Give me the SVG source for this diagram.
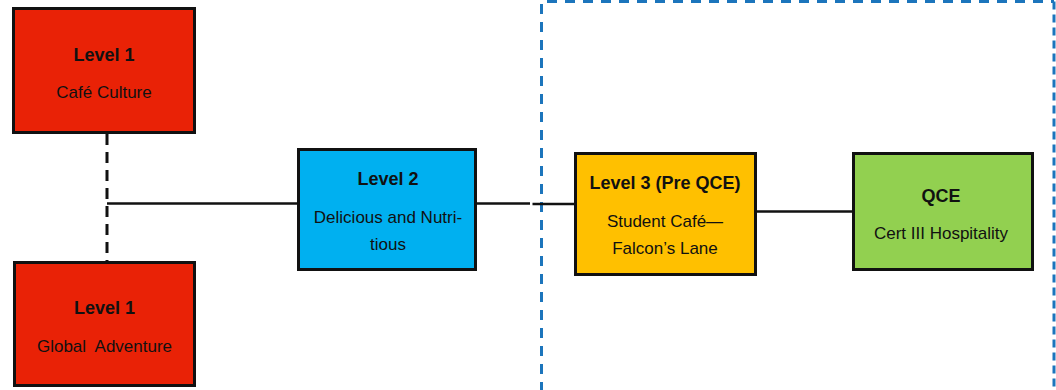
<svg xmlns="http://www.w3.org/2000/svg" width="1056" height="390" viewBox="0 0 1056 390">
<style>
  .box { stroke: #111; stroke-width: 3; }
  .red { fill: #E92206; }
  .blue { fill: #00B0F0; }
  .orange { fill: #FFC000; }
  .green { fill: #92D050; }
  .title { font-family: "Liberation Sans", Arial, sans-serif; font-weight: bold; font-size: 18px; fill: #111; text-anchor: middle; }
  .sub { font-family: "Liberation Sans", Arial, sans-serif; font-size: 17px; fill: #111; text-anchor: middle; white-space: pre; }
  .conn { stroke: #111; stroke-width: 2.5; fill: none; }
  .dash { stroke: #111; stroke-width: 3; stroke-dasharray: 11 7; fill: none; }
  .zone { stroke: #1C75BC; stroke-width: 3; fill: none; }
</style>
<rect width="1056" height="390" fill="#fff"/>
<g id="zone">
  <path class="zone" d="M541.5,392 V1.5 H1054" stroke-dasharray="10 8"/>
  <path class="zone" d="M1054,1.5 V392" stroke-dasharray="8 5"/>
</g>
<g id="connectors">
  <line class="dash" x1="107" y1="134" x2="107" y2="262"/>
  <line class="conn" x1="107" y1="203.5" x2="298" y2="203.5"/>
  <line class="conn" x1="476" y1="203.5" x2="530" y2="203.5"/>
  <line class="conn" x1="532.5" y1="204" x2="576" y2="204"/>
  <line class="conn" x1="756" y1="211.5" x2="853" y2="211.5"/>
</g>
<g id="level1-cafe">
  <rect class="box red" x="13.5" y="8.5" width="181" height="124"/>
  <text class="title" x="104" y="60.5">Level 1</text>
  <text class="sub" x="104" y="97.5">Café Culture</text>
</g>
<g id="level1-global">
  <rect class="box red" x="14.5" y="262.5" width="180" height="123"/>
  <text class="title" x="104.5" y="314">Level 1</text>
  <text class="sub" x="104.5" y="352" xml:space="preserve">Global  Adventure</text>
</g>
<g id="level2">
  <rect class="box blue" x="298.5" y="149.5" width="177" height="120"/>
  <text class="title" x="388" y="185">Level 2</text>
  <text class="sub" x="388" y="222.5">Delicious and Nutri-</text>
  <text class="sub" x="388" y="250">tious</text>
</g>
<g id="level3">
  <rect class="box orange" x="575.5" y="153.5" width="180" height="121"/>
  <text class="title" x="665" y="188.5">Level 3 (Pre QCE)</text>
  <text class="sub" x="665" y="226.5">Student Café—</text>
  <text class="sub" x="665" y="253.5">Falcon’s Lane</text>
</g>
<g id="qce">
  <rect class="box green" x="853.5" y="153.5" width="179" height="116"/>
  <text class="title" x="941" y="201.5">QCE</text>
  <text class="sub" x="941" y="238.5">Cert III Hospitality</text>
</g>
</svg>
